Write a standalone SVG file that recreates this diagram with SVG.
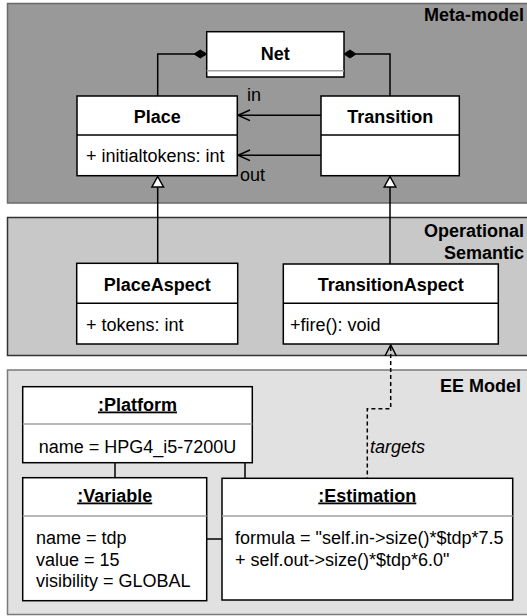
<svg xmlns="http://www.w3.org/2000/svg" width="527" height="616" viewBox="0 0 527 616">
<defs>
<style>
text{font-family:"Liberation Sans",Arial,sans-serif;font-size:18px;fill:#000}
.b{font-weight:bold}
.c{text-anchor:middle}
.e{text-anchor:end}
.u{text-decoration:underline}
.i{font-style:italic}
.box{fill:#fff;stroke:#000;stroke-width:1.5}
.sep{stroke:#000;stroke-width:1.5}
.gsep{stroke:#a0a0a0;stroke-width:1.5}
.ln{fill:none;stroke:#000;stroke-width:1.5}
.dash{fill:none;stroke:#000;stroke-width:1.5;stroke-dasharray:4 3}
</style>
</defs>
<rect width="527" height="616" fill="#fff"/>
<g id="panels">
<rect x="7.5" y="3.5" width="530" height="199.5" fill="#999999" stroke="#6a6a6a" stroke-width="1.5"/>
<text class="b e" x="524" y="21">Meta-model</text>
<rect x="7.5" y="217.5" width="530" height="138" fill="#c8c8c8" stroke="#333" stroke-width="1.5"/>
<text class="b e" x="524" y="236.5">Operational</text>
<text class="b e" x="524" y="258.5">Semantic</text>
<rect x="7.5" y="370" width="530" height="244.5" fill="#e1e1e1" stroke="#7a7a7a" stroke-width="1.5"/>
<text class="b e" x="521" y="392">EE Model</text>
</g>
<g id="connectors">
<polyline class="ln" points="157.7,96 157.7,54 194,54"/>
<polygon points="194,54 200.3,50 206.7,54 200.3,58" fill="#000" stroke="#000"/>
<polyline class="ln" points="390,96 390,54 356,54"/>
<polygon points="344,54 350,50 356,54 350,58" fill="#000" stroke="#000"/>
<line class="ln" x1="321" y1="115.3" x2="238" y2="115.3"/>
<polyline class="ln" points="250,110 238,115.3 250,120.6"/>
<text x="247" y="101">in</text>
<line class="ln" x1="321" y1="155.3" x2="238" y2="155.3"/>
<polyline class="ln" points="250,150 238,155.3 250,160.6"/>
<text x="240" y="180.5">out</text>
<line class="ln" x1="157.7" y1="263.3" x2="157.7" y2="187"/>
<polygon points="157.7,176.5 163.5,187 151.9,187" fill="#fff" stroke="#000" stroke-width="1.5"/>
<line class="ln" x1="390" y1="264" x2="390" y2="187"/>
<polygon points="390,176.5 395.8,187 384.2,187" fill="#fff" stroke="#000" stroke-width="1.5"/>
<polyline class="dash" points="390.7,347 390.7,408.7 367.3,408.7 367.3,478.3"/>
<polyline class="ln" points="385,356 390.7,345 396.4,356"/>
<text class="i" x="370" y="453">targets</text>
<line class="ln" x1="115" y1="462.7" x2="115" y2="477.7"/>
<line class="ln" x1="245" y1="462.7" x2="245" y2="478.3"/>
<line class="ln" x1="206.7" y1="539" x2="222" y2="539"/>
</g>
<g id="net">
<rect class="box" x="206.7" y="31.7" width="137.3" height="45.3"/>
<line class="gsep" x1="206.7" y1="70.7" x2="344" y2="70.7"/>
<text class="b c" x="275.3" y="60">Net</text>
</g>
<g id="place">
<rect class="box" x="77" y="96" width="160.3" height="79.7"/>
<line class="sep" x1="77" y1="135" x2="237.3" y2="135"/>
<text class="b c" x="157.2" y="123">Place</text>
<text x="86" y="161.5">+ initialtokens: int</text>
</g>
<g id="transition">
<rect class="box" x="321" y="96" width="138.3" height="79.7"/>
<line class="sep" x1="321" y1="135" x2="459.3" y2="135"/>
<text class="b c" x="390.2" y="123">Transition</text>
</g>
<g id="placeaspect">
<rect class="box" x="76.7" y="263.3" width="161" height="80.7"/>
<line class="sep" x1="76.7" y1="303.3" x2="237.7" y2="303.3"/>
<text class="b c" x="157.2" y="291">PlaceAspect</text>
<text x="86" y="330.5">+ tokens: int</text>
</g>
<g id="transitionaspect">
<rect class="box" x="283.3" y="264" width="215" height="80"/>
<line class="sep" x1="283.3" y1="303.3" x2="498.3" y2="303.3"/>
<text class="b c" x="390.8" y="291">TransitionAspect</text>
<text x="290" y="330.5">+fire(): void</text>
</g>
<g id="platform">
<rect class="box" x="22.7" y="386.7" width="229.6" height="76"/>
<line class="gsep" x1="22.7" y1="424" x2="252.3" y2="424"/>
<text class="b c u" x="137.5" y="410.5">:Platform</text>
<text class="c" x="137.5" y="452.5">name = HPG4_i5-7200U</text>
</g>
<g id="variable">
<rect class="box" x="22.7" y="477.7" width="184" height="123"/>
<line class="gsep" x1="22.7" y1="516" x2="206.7" y2="516"/>
<text class="b c u" x="114.7" y="501.5">:Variable</text>
<text x="36" y="544">name = tdp</text>
<text x="36" y="565.5">value = 15</text>
<text x="36" y="587">visibility = GLOBAL</text>
</g>
<g id="estimation">
<rect class="box" x="222" y="478.3" width="290.7" height="121.7"/>
<line class="gsep" x1="222" y1="516" x2="512.7" y2="516"/>
<text class="b c u" x="367.3" y="501.5">:Estimation</text>
<text x="235" y="544">formula = "self.in-&gt;size()*$tdp*7.5</text>
<text x="235" y="565.5">+ self.out-&gt;size()*$tdp*6.0"</text>
</g>
</svg>
